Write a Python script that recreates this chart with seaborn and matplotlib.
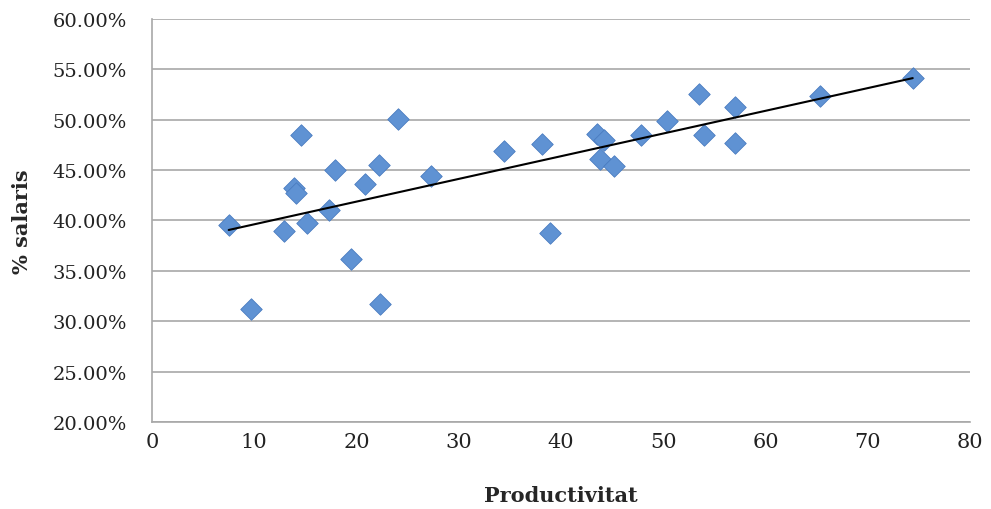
import matplotlib
matplotlib.use("Agg")
import matplotlib.pyplot as plt
from matplotlib.ticker import FuncFormatter, MultipleLocator
import seaborn as sns
import pandas as pd

# Dades llegides del gràfic
productivitat = [7.5, 9.7, 12.9, 13.9, 14.1, 14.6, 15.2, 17.3, 17.9, 19.5,
                 20.8, 22.2, 22.3, 24.1, 27.3, 34.4, 38.1, 38.9, 43.5, 44.2,
                 43.8, 45.2, 47.8, 50.4, 53.5, 54.0, 57.0, 57.0, 65.3, 74.4]
salaris = [39.6, 31.2, 39.0, 43.2, 42.7, 48.5, 39.8, 41.0, 45.0, 36.2,
           43.6, 45.5, 31.7, 50.1, 44.4, 46.9, 47.6, 38.8, 48.6, 48.0,
           46.1, 45.4, 48.5, 49.9, 52.6, 48.5, 51.3, 47.7, 52.4, 54.1]

df = pd.DataFrame({'Productivitat': productivitat, 'salaris': salaris})

sns.set_style("white")
plt.rcParams['font.family'] = ['DejaVu Serif']

fig = plt.figure(figsize=(9.91, 5.10), dpi=100)
ax = fig.add_axes([0.1534, 0.1706, 0.8254, 0.7902])

sns.regplot(
    data=df, x='Productivitat', y='salaris', ax=ax, ci=None,
    marker='D',
    scatter_kws={'s': 120, 'color': '#5F92D3', 'edgecolor': '#4A7CC0',
                 'linewidths': 0.6, 'alpha': 1, 'zorder': 3},
    line_kws={'color': 'black', 'linewidth': 1.5, 'zorder': 4},
)

ax.set_xlim(0, 80)
ax.set_ylim(20, 60)
ax.xaxis.set_major_locator(MultipleLocator(10))
ax.yaxis.set_major_locator(MultipleLocator(5))
ax.yaxis.set_major_formatter(FuncFormatter(lambda v, p: f'{v:.2f}%'))

ax.grid(axis='y', color='#A8A8A8', linewidth=1.2)
ax.set_axisbelow(True)
for s in ['top', 'right']:
    ax.spines[s].set_visible(False)
for s in ['left', 'bottom']:
    ax.spines[s].set_color('#A8A8A8')
    ax.spines[s].set_linewidth(1.2)

ax.tick_params(axis='both', length=0, colors='#222222')
ax.tick_params(axis='x', pad=7, labelsize=15)
ax.tick_params(axis='y', pad=18, labelsize=14)

ax.set_xlabel('Productivitat', fontsize=15, weight='bold', labelpad=25)
ax.set_ylabel('% salaris', fontsize=15, weight='bold', labelpad=15)

fig.savefig('out.png', dpi=100)
